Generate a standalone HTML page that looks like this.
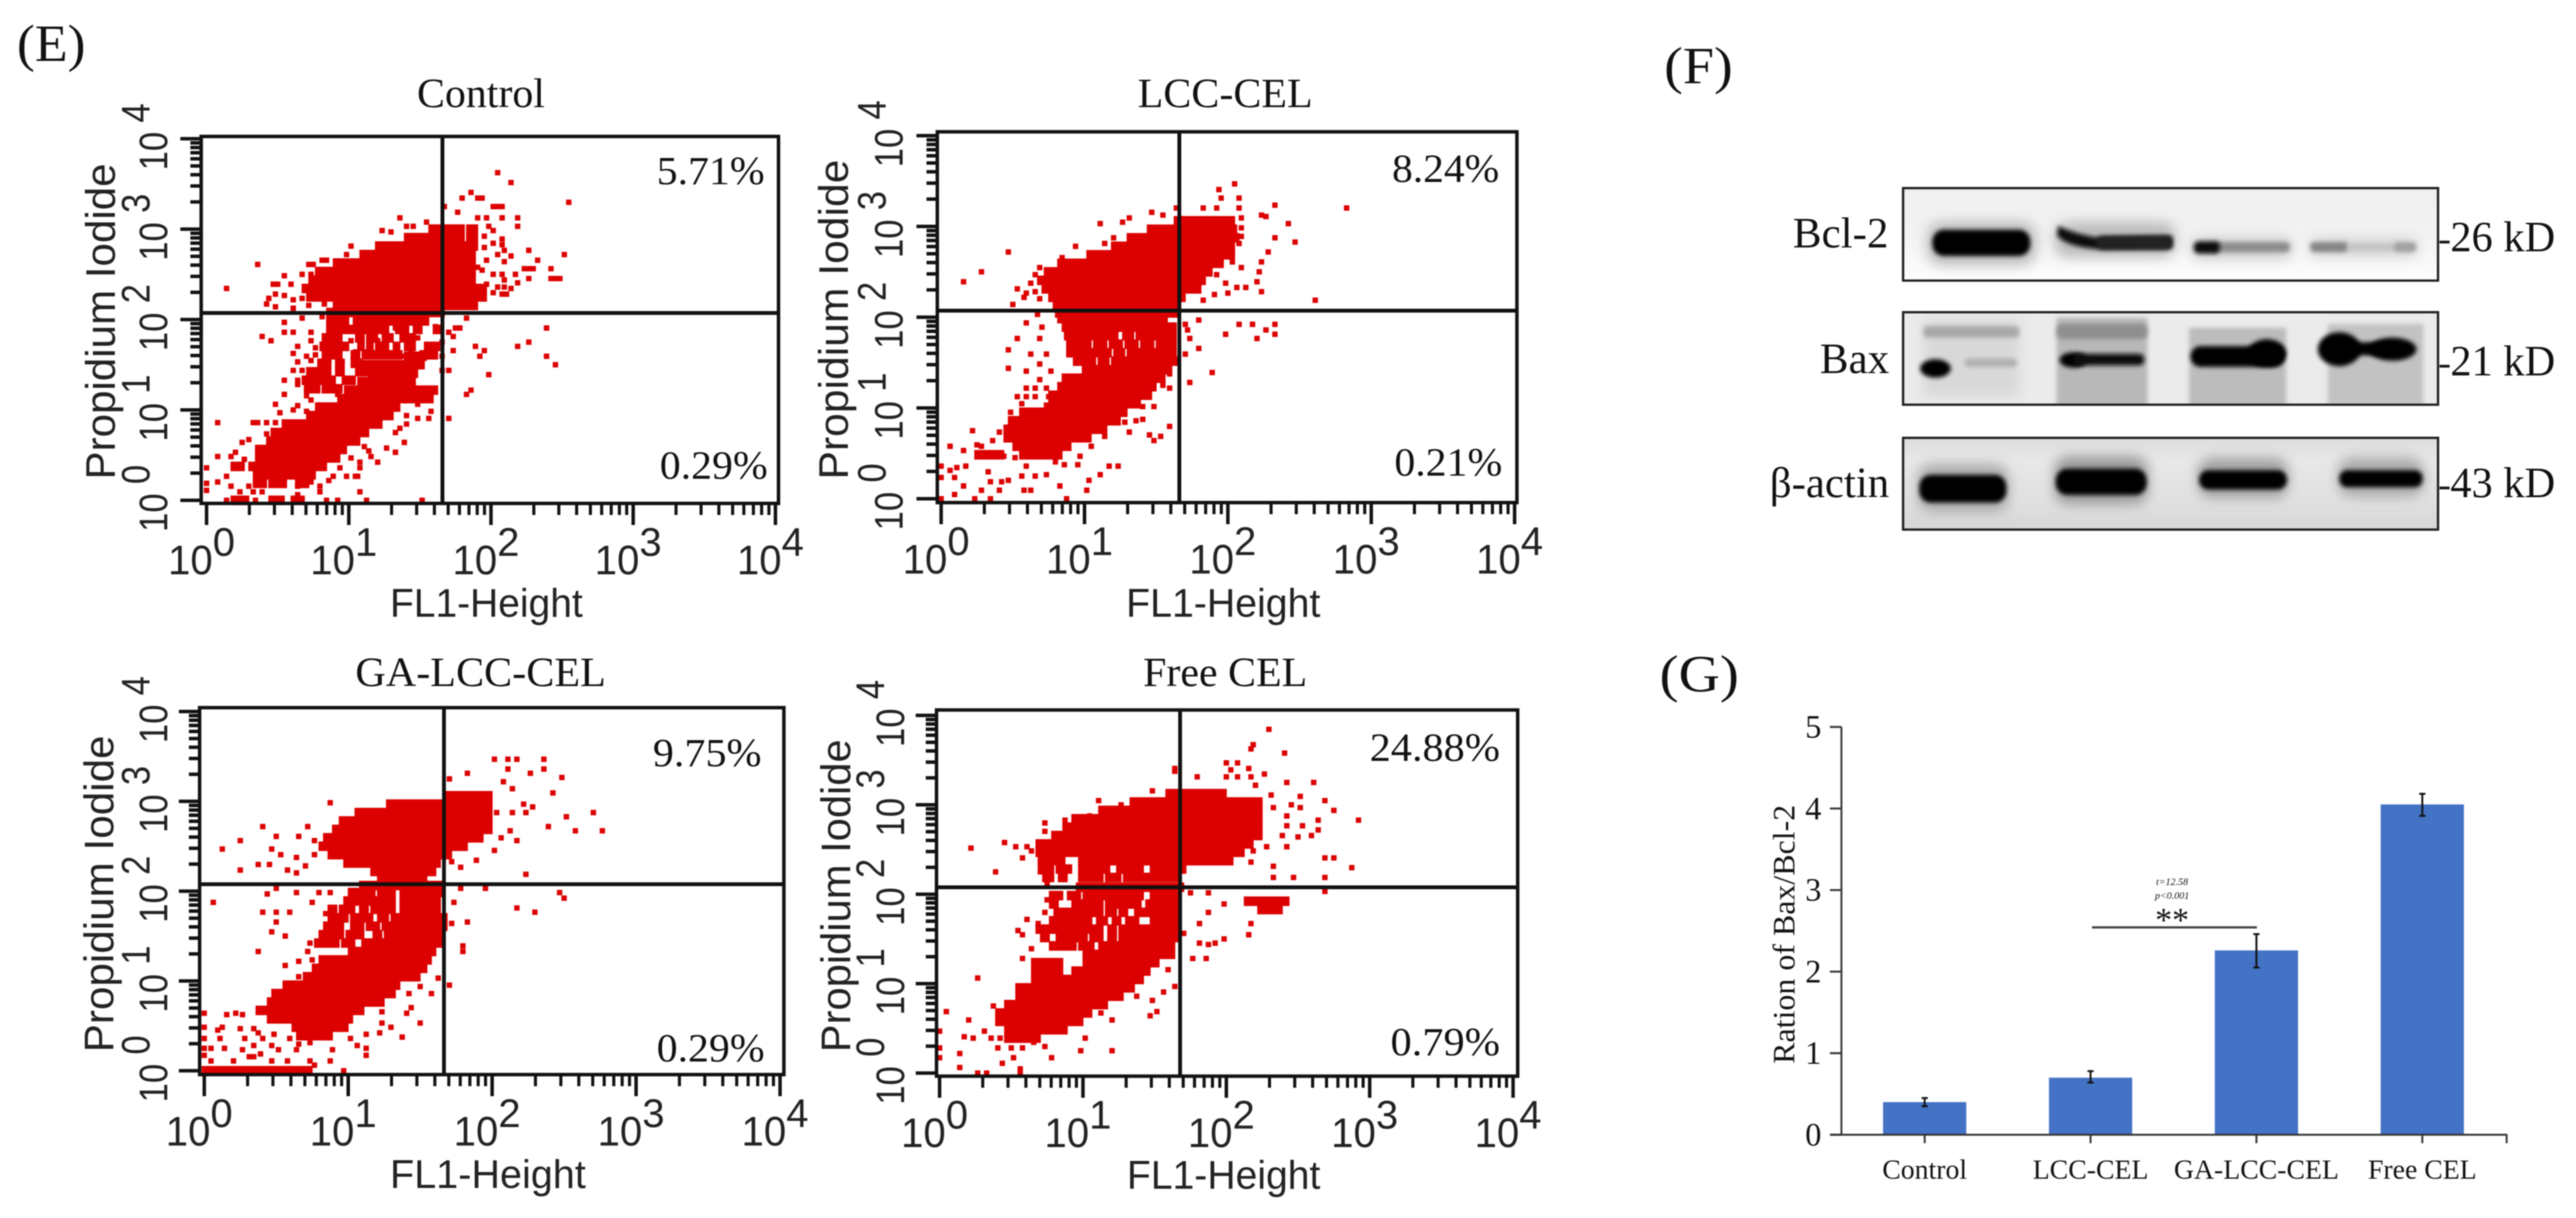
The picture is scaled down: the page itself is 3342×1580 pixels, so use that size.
<!DOCTYPE html>
<html lang="en">
<head>
<meta charset="utf-8">
<title>Apoptosis flow cytometry, western blot and Bax/Bcl-2 ratio</title>
<style>
html,body{margin:0;padding:0;background:#fff;width:3342px;height:1580px;overflow:hidden}
#figure{display:block;filter:blur(.7px)}
.serif{font-family:"Liberation Serif",serif;fill:#111}
.sans{font-family:"Liberation Sans",sans-serif;fill:#222}
</style>
</head>
<body>
<svg id="figure" xmlns="http://www.w3.org/2000/svg" width="3342" height="1580" viewBox="0 0 3342 1580">
  <defs>
    <filter id="b3" x="-30%" y="-60%" width="160%" height="220%"><feGaussianBlur stdDeviation="3"/></filter>
    <filter id="b8" x="-30%" y="-80%" width="160%" height="260%"><feGaussianBlur stdDeviation="8"/></filter>
    <clipPath id="clip-bcl"><rect x="2469" y="244" width="694" height="120"/></clipPath>
    <clipPath id="clip-bax"><rect x="2469" y="405" width="694" height="120"/></clipPath>
    <clipPath id="clip-act"><rect x="2469" y="568" width="694" height="119"/></clipPath>
    <linearGradient id="bcl-bg" x1="0" y1="0" x2="0" y2="1"><stop offset="0" stop-color="#efefef"/><stop offset=".5" stop-color="#f2f2f2"/><stop offset="1" stop-color="#fdfdfd"/></linearGradient>
    <linearGradient id="act-bg" x1="0" y1="0" x2="0" y2="1"><stop offset="0" stop-color="#dcdcdc"/><stop offset=".25" stop-color="#e8e8e8"/><stop offset=".7" stop-color="#e0e0e0"/><stop offset="1" stop-color="#d6d6d6"/></linearGradient>
  </defs>
  <rect width="3342" height="1580" fill="#fff"/>

  <text class="serif" x="22" y="79" font-size="68" textLength="89" lengthAdjust="spacingAndGlyphs">(E)</text>
  <text class="serif" x="2159" y="108" font-size="68" textLength="89" lengthAdjust="spacingAndGlyphs">(F)</text>
  <text class="serif" x="2153" y="897" font-size="68" textLength="103" lengthAdjust="spacingAndGlyphs">(G)</text>

  <g id="flow-plots"></g>

  <g id="western-blot">
    <g clip-path="url(#clip-bcl)">
      <rect x="2469" y="244" width="694" height="120" fill="url(#bcl-bg)"/>
      <rect x="2500" y="288" width="142" height="56" rx="20" fill="#bbb" filter="url(#b8)"/>
      <rect x="2665" y="288" width="158" height="46" rx="18" fill="#bbb" filter="url(#b8)"/>
      <rect x="2842" y="308" width="132" height="28" rx="12" fill="#ccc" filter="url(#b8)"/>
      <rect x="2995" y="308" width="142" height="26" rx="12" fill="#d6d6d6" filter="url(#b8)"/>
      <rect x="2507" y="298" width="127" height="34" rx="15" fill="#000" filter="url(#b3)"/>
      <path d="M2670 293 Q2690 303 2720 308 L2818 306 L2818 322 L2720 323 Q2682 320 2669 306 Z" fill="#0a0a0a" filter="url(#b3)"/>
      <rect x="2720" y="306" width="98" height="18" rx="8" fill="#222" filter="url(#b3)"/>
      <rect x="2870" y="314" width="101" height="13" rx="6" fill="#8c8c8c" filter="url(#b3)"/>
      <rect x="2846" y="313" width="34" height="16" rx="7" fill="#111" filter="url(#b3)"/>
      <rect x="2997" y="314" width="50" height="13" rx="6" fill="#858585" filter="url(#b3)"/>
      <rect x="3045" y="316" width="62" height="9" rx="4" fill="#c4c4c4" filter="url(#b3)"/>
      <rect x="3105" y="314" width="30" height="13" rx="6" fill="#a0a0a0" filter="url(#b3)"/>
    </g>
    <rect x="2469" y="244" width="694" height="120" fill="none" stroke="#222" stroke-width="3"/>

    <g clip-path="url(#clip-bax)">
      <rect x="2469" y="405" width="694" height="120" fill="#ebebeb"/>
      <rect x="2495" y="415" width="125" height="100" fill="#d8d8d8" filter="url(#b8)"/>
      <rect x="2668" y="412" width="118" height="116" fill="#b8b8b8" filter="url(#b3)"/>
      <rect x="2840" y="425" width="126" height="102" fill="#bcbcbc" filter="url(#b3)"/>
      <rect x="3020" y="420" width="124" height="106" fill="#c2c2c2" filter="url(#b3)"/>
      <rect x="2495" y="423" width="125" height="15" rx="6" fill="#a8a8a8" filter="url(#b3)"/>
      <rect x="2668" y="420" width="118" height="20" rx="8" fill="#8f8f8f" filter="url(#b3)"/>
      <ellipse cx="2511" cy="478" rx="20" ry="12" fill="#000" filter="url(#b3)"/>
      <rect x="2549" y="465" width="68" height="11" rx="5" fill="#b0b0b0" filter="url(#b3)"/>
      <ellipse cx="2690" cy="467" rx="18" ry="10" fill="#000" filter="url(#b3)"/>
      <rect x="2690" y="459" width="92" height="15" rx="7" fill="#111" filter="url(#b3)"/>
      <rect x="2842" y="449" width="122" height="27" rx="13" fill="#000" filter="url(#b3)"/>
      <ellipse cx="2941" cy="458" rx="25" ry="18" fill="#000" filter="url(#b3)"/>
      <ellipse cx="3035" cy="453" rx="28" ry="22" fill="#000" filter="url(#b3)"/>
      <ellipse cx="3104" cy="453" rx="31" ry="15" fill="#000" filter="url(#b3)"/>
      <rect x="3040" y="444" width="60" height="17" fill="#000" filter="url(#b3)"/>
    </g>
    <rect x="2469" y="405" width="694" height="120" fill="none" stroke="#222" stroke-width="3"/>

    <g clip-path="url(#clip-act)">
      <rect x="2469" y="568" width="694" height="119" fill="url(#act-bg)"/>
      <rect x="2488" y="602" width="118" height="62" rx="18" fill="#aaa" filter="url(#b8)"/>
      <rect x="2665" y="592" width="122" height="62" rx="18" fill="#999" filter="url(#b8)"/>
      <rect x="2851" y="594" width="118" height="52" rx="18" fill="#a0a0a0" filter="url(#b8)"/>
      <rect x="3033" y="594" width="112" height="50" rx="18" fill="#a8a8a8" filter="url(#b8)"/>
      <rect x="2490" y="616" width="113" height="36" rx="15" fill="#000" filter="url(#b3)"/>
      <rect x="2667" y="608" width="118" height="34" rx="15" fill="#000" filter="url(#b3)"/>
      <rect x="2853" y="610" width="114" height="25" rx="12" fill="#000" filter="url(#b3)"/>
      <rect x="3035" y="610" width="108" height="22" rx="10" fill="#000" filter="url(#b3)"/>
    </g>
    <rect x="2469" y="568" width="694" height="119" fill="none" stroke="#222" stroke-width="3"/>

    <text class="serif" x="2326" y="321" font-size="56" textLength="124" lengthAdjust="spacingAndGlyphs">Bcl-2</text>
    <text class="serif" x="2361" y="484" font-size="56" textLength="90" lengthAdjust="spacingAndGlyphs">Bax</text>
    <text class="serif" x="2296" y="645" font-size="56" textLength="155" lengthAdjust="spacingAndGlyphs">β-actin</text>
    <line x1="3165" y1="314" x2="3178" y2="314" stroke="#111" stroke-width="3.5"/>
    <line x1="3165" y1="475" x2="3178" y2="475" stroke="#111" stroke-width="3.5"/>
    <line x1="3165" y1="633" x2="3178" y2="633" stroke="#111" stroke-width="3.5"/>
    <text class="serif" x="3179" y="326" font-size="56" textLength="136" lengthAdjust="spacingAndGlyphs">26 kD</text>
    <text class="serif" x="3179" y="487" font-size="56" textLength="136" lengthAdjust="spacingAndGlyphs">21 kD</text>
    <text class="serif" x="3179" y="645" font-size="56" textLength="136" lengthAdjust="spacingAndGlyphs">43 kD</text>
  </g>

  <g id="bar-chart"></g>
</svg>

<script>
/* ---------- Flow cytometry data: channels, 64 channels per decade ---------- */
const xExponents = ['0', '1', '2', '3', '4'];
const yExponents = ['0', '1', '2', '3', '4'];
const tickBase = '10';
const minorMultiples = [2, 3, 4, 5, 6, 7, 8, 9];
const xAxisTitle = 'FL1-Height';
const yAxisTitle = 'Propidium Iodide';

/* bands: [PI channel, FL1 channel start, FL1 channel end] */
const controlBands = [[192,101,104],[192,106,115],[192,118,121],[186,90,104],[186,106,115],[186,118,121],[180,77,121],[174,70,120],[168,58,120],[162,50,120],[156,47,120],[150,44,125],[144,46,125],[138,58,104],[138,106,121],[133,55,106],[127,55,63],[127,67,99],[121,55,60],[121,62,67],[121,69,81],[121,86,90],[121,94,96],[121,103,105],[115,53,60],[115,68,70],[115,73,76],[115,80,83],[115,88,93],[109,52,63],[109,69,70],[109,73,74],[109,77,78],[109,80,81],[109,85,86],[109,90,93],[109,99,104],[103,53,58],[103,59,60],[103,66,68],[103,71,87],[103,97,103],[97,51,55],[97,59,61],[97,66,69],[91,46,55],[91,59,61],[91,68,72],[85,44,47],[85,49,52],[85,54,57],[85,62,66],[79,45,50],[79,53,60],[102,90,98],[96,71,97],[90,74,94],[84,69,93],[78,63,91],[78,92,103],[72,60,89],[72,90,101],[66,50,86],[60,46,83],[54,35,78],[48,30,72],[42,28,68],[36,23,62],[30,23,59],[24,20,53],[24,12,16],[18,42,48],[18,22,40],[12,22,26],[12,29,35],[12,41,45],[0,12,18],[0,29,34],[0,39,43]];
const lccBands = [[196,105,107],[196,108,130],[190,93,131],[184,84,132],[178,77,130],[172,66,130],[166,53,125],[160,47,120],[154,44,117],[148,46,115],[142,49,108],[136,51,106],[131,52,105],[127,53,64],[127,66,100],[121,55,62],[121,64,68],[121,70,76],[121,78,82],[121,84,90],[121,92,97],[121,99,104],[115,56,60],[115,62,66],[115,68,72],[115,74,78],[115,82,85],[115,88,91],[115,93,104],[109,57,61],[109,63,66],[109,69,73],[109,76,80],[109,83,87],[109,90,94],[109,97,104],[103,57,75],[103,78,81],[103,84,104],[97,60,68],[97,71,74],[97,77,105],[91,64,102],[85,55,99],[79,53,95],[73,49,93],[67,49,88],[61,36,82],[55,31,79],[49,29,73],[43,29,66],[37,33,57],[31,16,27],[31,36,53]];
const gaBands = [[196,107,127],[190,82,127],[184,68,127],[178,61,127],[172,58,127],[166,54,123],[160,52,116],[154,56,109],[148,63,104],[142,75,102],[136,78,98],[132,70,105],[127,65,75],[127,78,84],[127,88,106],[121,63,70],[121,72,84],[121,88,104],[115,56,58],[115,61,66],[115,70,72],[115,75,84],[115,88,104],[109,56,63],[109,66,74],[109,78,81],[109,84,107],[103,54,61],[103,66,70],[103,73,77],[103,80,107],[97,52,61],[97,64,70],[97,76,78],[97,81,105],[91,50,59],[91,62,66],[91,71,105],[85,65,102],[79,52,100],[73,49,98],[67,45,95],[61,36,86],[55,31,84],[49,29,79],[43,24,70],[37,29,65],[31,40,63],[25,42,56],[0,0,47]];
const freeBands = [[200,102,127],[194,86,143],[188,72,143],[182,60,143],[176,56,143],[170,51,143],[164,44,139],[158,44,135],[152,45,55],[152,63,130],[146,45,50],[146,53,58],[146,63,75],[146,80,90],[146,95,109],[140,47,50],[140,54,56],[140,63,72],[140,75,80],[140,83,106],[133,62,108],[127,50,54],[127,58,62],[127,65,90],[127,95,106],[121,50,52],[121,60,72],[121,75,84],[121,86,89],[121,93,106],[123,137,155],[117,143,152],[115,52,54],[115,56,72],[115,75,78],[115,81,83],[115,88,106],[109,50,54],[109,56,67],[109,71,74],[109,78,80],[109,84,88],[109,95,107],[103,44,63],[103,65,72],[103,76,78],[103,81,107],[97,46,48],[97,53,65],[97,68,72],[97,76,78],[97,81,107],[91,50,60],[91,63,68],[91,72,104],[85,65,104],[79,42,54],[79,65,97],[73,42,54],[73,60,93],[67,42,90],[61,35,86],[55,35,81],[49,30,74],[43,26,67],[37,26,63],[31,30,56],[25,30,44]];

/* dots: [FL1 channel, PI channel] */
const controlDots = [[9,150],[23,167],[65,180],[63,174],[87,200],[79,191],[90,194],[93,194],[99,197],[95,187],[83,190],[52,170],[54,170],[46,167],[48,167],[35,159],[43,160],[47,160],[38,153],[30,153],[32,153],[35,145],[31,146],[28,143],[27,139],[31,137],[39,142],[39,136],[43,143],[46,138],[53,139],[131,232],[137,225],[119,218],[115,214],[122,214],[124,214],[163,211],[107,208],[129,208],[131,208],[133,208],[113,204],[122,200],[126,200],[133,200],[140,200],[140,194],[127,194],[125,187],[129,191],[133,185],[129,182],[133,181],[125,179],[134,177],[145,177],[137,173],[131,174],[161,174],[149,170],[126,170],[134,169],[145,164],[143,164],[147,164],[155,164],[139,160],[145,157],[157,157],[155,157],[159,157],[140,154],[129,160],[133,160],[134,156],[126,153],[131,151],[134,151],[137,150],[129,147],[133,146],[135,146],[124,163],[122,165],[117,129],[114,122],[112,122],[153,122],[109,119],[111,116],[106,112],[111,106],[145,112],[140,109],[121,109],[125,106],[123,102],[106,102],[153,102],[157,96],[106,92],[109,92],[127,89],[119,78],[117,75],[109,58],[25,116],[29,113],[35,126],[35,119],[39,119],[47,119],[43,129],[52,130],[47,113],[41,109],[39,104],[49,108],[49,103],[45,102],[41,98],[47,99],[39,92],[43,92],[47,92],[52,92],[55,98],[54,113],[58,118],[59,106],[61,98],[60,92],[65,113],[67,105],[69,115],[74,113],[77,113],[71,105],[82,114],[85,122],[90,122],[94,123],[95,115],[85,109],[88,102],[92,105],[100,109],[103,123],[102,107],[35,85],[41,85],[41,82],[45,83],[47,82],[53,83],[56,83],[45,78],[50,79],[60,79],[35,75],[45,74],[47,71],[59,75],[31,68],[41,67],[33,62],[39,64],[45,63],[21,55],[23,55],[27,55],[5,55],[31,55],[27,47],[19,43],[16,41],[5,31],[13,34],[11,31],[17,29],[12,23],[9,17],[5,13],[0,23],[0,12],[0,7],[11,10],[19,10],[15,6],[21,6],[25,6],[22,14],[29,18],[32,18],[37,17],[32,12],[34,11],[41,10],[41,4],[45,11],[47,13],[51,10],[51,6],[55,14],[57,17],[63,17],[67,17],[68,17],[69,6],[69,23],[69,27],[65,30],[60,23],[77,27],[74,31],[71,38],[73,35],[81,37],[85,34],[89,41],[85,48],[81,61],[90,60],[95,68],[95,58],[100,58],[101,63],[90,54],[87,51],[9,0],[22,0],[54,0],[59,0],[72,0],[97,0]];
const lccDots = [[10,153],[18,160],[30,174],[60,178],[71,194],[81,195],[84,198],[94,202],[99,200],[105,205],[44,163],[42,158],[40,152],[34,148],[38,145],[42,146],[32,137],[37,142],[44,141],[77,184],[73,180],[54,170],[131,222],[124,218],[125,212],[133,212],[117,205],[123,205],[133,205],[134,198],[143,200],[149,207],[145,199],[155,194],[181,205],[149,184],[158,181],[134,191],[134,185],[133,180],[146,174],[143,167],[134,163],[130,174],[130,167],[142,160],[141,153],[132,149],[136,149],[143,146],[128,145],[123,158],[127,152],[167,140],[117,140],[122,144],[133,123],[139,123],[149,123],[127,116],[149,116],[141,113],[145,119],[115,126],[109,123],[110,119],[111,113],[115,106],[109,102],[121,89],[111,82],[43,130],[38,124],[45,121],[34,113],[30,105],[44,113],[40,102],[47,102],[30,92],[38,90],[44,95],[49,90],[44,84],[38,78],[42,78],[47,78],[34,72],[38,72],[42,72],[48,72],[36,67],[31,61],[47,66],[102,88],[99,80],[102,78],[95,65],[90,65],[90,56],[87,55],[82,54],[102,51],[84,47],[93,45],[98,44],[95,41],[73,44],[67,37],[62,30],[55,24],[14,48],[4,37],[10,34],[16,38],[0,23],[4,20],[7,22],[11,23],[0,15],[6,15],[10,9],[6,3],[0,0],[15,0],[18,6],[22,0],[21,19],[22,12],[26,6],[27,12],[30,13],[36,16],[38,23],[40,6],[42,16],[37,6],[47,17],[53,9],[56,0],[65,6],[66,13],[71,17],[75,23],[79,23],[61,24],[51,26],[33,29],[28,30],[23,41],[18,37],[26,47]];
const gaDots = [[26,174],[16,164],[32,167],[8,158],[30,158],[42,167],[46,174],[56,191],[49,164],[34,154],[16,143],[24,147],[29,147],[41,152],[37,143],[41,141],[45,146],[49,154],[129,222],[135,222],[139,222],[151,222],[135,215],[151,215],[145,212],[159,209],[117,212],[109,208],[133,206],[155,198],[137,201],[142,190],[146,188],[143,184],[137,184],[130,184],[161,181],[173,184],[153,174],[165,171],[177,171],[139,164],[132,166],[136,171],[129,157],[121,150],[114,145],[110,149],[143,140],[158,127],[160,123],[139,116],[147,113],[125,130],[117,106],[115,89],[115,85],[110,105],[111,120],[114,130],[109,61],[104,66],[4,120],[28,126],[32,130],[41,127],[51,127],[26,113],[32,113],[38,113],[32,106],[30,99],[36,96],[24,85],[48,120],[54,112],[47,91],[46,85],[48,79],[36,75],[42,78],[42,67],[56,127],[91,55],[96,60],[101,55],[92,45],[90,41],[96,34],[79,42],[79,34],[78,27],[83,31],[88,24],[72,26],[72,16],[72,11],[65,23],[68,18],[62,0],[57,15],[56,7],[0,41],[0,31],[0,23],[0,16],[3,7],[0,11],[6,29],[8,31],[17,40],[10,40],[14,41],[7,23],[3,16],[9,16],[13,7],[20,10],[22,10],[16,30],[22,30],[18,23],[24,27],[26,23],[30,18],[33,15],[37,7],[38,23],[31,26],[41,15],[47,7],[49,4],[17,15],[22,18],[25,12],[30,7],[42,19],[47,20]];
const freeDots = [[147,246],[140,235],[139,232],[154,229],[105,218],[105,216],[128,222],[133,222],[130,217],[138,218],[145,214],[115,212],[128,212],[133,212],[139,212],[155,208],[167,208],[141,206],[148,199],[161,198],[172,195],[176,188],[187,181],[161,190],[155,184],[155,177],[169,181],[169,174],[162,177],[157,192],[149,190],[153,170],[166,170],[160,169],[155,162],[146,162],[140,159],[172,154],[176,154],[184,147],[139,151],[149,148],[149,140],[158,140],[172,140],[172,130],[14,161],[25,144],[29,165],[34,162],[39,162],[37,154],[41,159],[47,179],[47,173],[56,181],[71,195],[81,192],[95,202],[67,184],[45,151],[49,146],[45,144],[56,146],[48,135],[48,124],[47,115],[39,110],[35,102],[37,99],[44,107],[41,89],[37,82],[44,80],[17,68],[112,129],[120,129],[127,121],[120,115],[109,100],[116,107],[116,93],[113,82],[119,82],[120,92],[127,96],[123,93],[139,107],[138,99],[105,62],[102,74],[97,44],[94,41],[88,55],[95,52],[100,58],[90,66],[77,38],[72,43],[77,16],[65,25],[63,16],[50,11],[3,44],[0,30],[0,18],[0,11],[13,38],[11,26],[15,25],[9,14],[9,4],[20,30],[24,48],[26,38],[28,7],[33,11],[36,3],[17,0],[21,0],[36,0],[26,18],[32,18],[37,18],[42,22],[47,19],[60,36],[23,25],[27,25]];

/* ---------- Bar chart data ---------- */
const barCategories = ['Control', 'LCC-CEL', 'GA-LCC-CEL', 'Free CEL'];
const barValues = [0.40, 0.70, 2.26, 4.05];
const errLow = [0.35, 0.64, 2.05, 3.91];
const errHigh = [0.45, 0.78, 2.46, 4.18];
const barTicks = [0, 1, 2, 3, 4, 5];

/* ---------- helpers ---------- */
const NS = 'http://www.w3.org/2000/svg';
function mk(parent, tag, attrs, txt) {
  const el = document.createElementNS(NS, tag);
  for (const k in attrs) el.setAttribute(k, attrs[k]);
  if (txt !== undefined) el.textContent = txt;
  parent.appendChild(el);
  return el;
}
const CHANNELS_PER_DECADE = 64;

const flowPanels = [
  {key:'control', title:'Control', bands:controlBands, dots:controlDots, upper:'5.71%', lower:'0.29%',
   L:261,R:1010,T:177,B:653,hY:406,vX:574,x0:268,x4:1006,y0:649,y4:180,
   titleX:541,titleW:166,titleY:139,upX:852,upW:140,upY:239,loX:856,loW:140,loY:621,
   flX:506,flW:250,flY:800,piX:149,piY:622,piL:410,yLab:217,ySup:194},
  {key:'lcc-cel', title:'LCC-CEL', bands:lccBands, dots:lccDots, upper:'8.24%', lower:'0.21%',
   L:1216,R:1968,T:171,B:652,hY:403,vX:1530,x0:1221,x4:1965,y0:647,y4:176,
   titleX:1476,titleW:227,titleY:139,upX:1806,upW:139,upY:236,loX:1809,loW:140,loY:617,
   flX:1461,flW:252,flY:800,piX:1100,piY:622,piL:415,yLab:1171,ySup:1149},
  {key:'ga-lcc-cel', title:'GA-LCC-CEL', bands:gaBands, dots:gaDots, upper:'9.75%', lower:'0.29%',
   L:259,R:1017,T:918,B:1394,hY:1147,vX:576,x0:265,x4:1012,y0:1389,y4:923,
   titleX:461,titleW:325,titleY:890,upX:847,upW:141,upY:994,loX:852,loW:140,loY:1377,
   flX:506,flW:254,flY:1541,piX:147,piY:1365,piL:411,yLab:217,ySup:194},
  {key:'free-cel', title:'Free CEL', bands:freeBands, dots:freeDots, upper:'24.88%', lower:'0.79%',
   L:1215,R:1969,T:921,B:1396,hY:1151,vX:1531,x0:1219,x4:1963,y0:1392,y4:928,
   titleX:1483,titleW:213,titleY:890,upX:1777,upW:169,upY:987,loX:1804,loW:142,loY:1369,
   flX:1462,flW:251,flY:1542,piX:1103,piY:1365,piL:406,yLab:1173,ySup:1147}
];

function drawFlowPanel(p) {
  const root = document.getElementById('flow-plots');
  const g = mk(root, 'g', {});
  
  

  const decX = (p.x4 - p.x0) / 4, decY = (p.y0 - p.y4) / 4;
  const xCh = c => p.x0 + c / CHANNELS_PER_DECADE * decX;
  const yCh = c => p.y0 - c / CHANNELS_PER_DECADE * decY;
  const xDec = d => p.x0 + d * decX;
  const yDec = d => p.y0 - d * decY;

  const t = mk(g, 'text', {class:'serif', x:p.titleX, y:p.titleY, 'font-size':54, textLength:p.titleW, lengthAdjust:'spacingAndGlyphs'}, p.title);
  
  

  const marks = mk(g, 'g', {fill:'#dc0000'});
  
  
  p.bands.forEach(b => {
    const x1 = xCh(b[1]) - 3.5, x2 = xCh(b[2]) + 3.5;
    const r = mk(marks, 'rect', {x:x1, y:yCh(b[0]) - 6.2, width:x2 - x1, height:12.4});
    
    
  });
  p.dots.forEach(d => {
    const r = mk(marks, 'rect', {x:xCh(d[0]) - 3.5, y:yCh(d[1]) - 3.5, width:7, height:7});
    
    
  });

  const frame = mk(g, 'rect', {x:p.L, y:p.T, width:p.R - p.L, height:p.B - p.T, fill:'none', stroke:'#111', 'stroke-width':4.5});
  
  
  const h = mk(g, 'line', {x1:p.L, x2:p.R, y1:p.hY, y2:p.hY, stroke:'#111', 'stroke-width':5});
  
  
  const v = mk(g, 'line', {x1:p.vX, x2:p.vX, y1:p.T, y2:p.B, stroke:'#111', 'stroke-width':5});
  
  

  const up = mk(g, 'text', {class:'serif', x:p.upX, y:p.upY, 'font-size':52, textLength:p.upW, lengthAdjust:'spacingAndGlyphs'}, p.upper);
  
  
  const lo = mk(g, 'text', {class:'serif', x:p.loX, y:p.loY, 'font-size':52, textLength:p.loW, lengthAdjust:'spacingAndGlyphs'}, p.lower);
  
  

  /* x axis */
  xExponents.forEach((e, i) => {
    const x = xDec(i);
    const tk = mk(g, 'line', {x1:x, x2:x, y1:p.B, y2:p.B + 28, stroke:'#111', 'stroke-width':4.5});
    
    
    if (i < 4) minorMultiples.forEach(m => {
      const xm = xDec(i + Math.log10(m));
      const mt = mk(g, 'line', {x1:xm, x2:xm, y1:p.B, y2:p.B + 15, stroke:'#111', 'stroke-width':4});
      
      
    });
    const base = mk(g, 'text', {class:'sans', x:x - 50, y:p.B + 92, 'font-size':54, textLength:58, lengthAdjust:'spacingAndGlyphs'}, tickBase);
    
    
    const sup = mk(g, 'text', {class:'sans', x:x + 8, y:p.B + 68, 'font-size':52}, e);
    
    
  });

  /* y axis */
  yExponents.forEach((e, i) => {
    const y = yDec(i);
    const tk = mk(g, 'line', {x1:p.L - 27, x2:p.L, y1:y, y2:y, stroke:'#111', 'stroke-width':4.5});
    
    
    if (i < 4) minorMultiples.forEach(m => {
      const ym = yDec(i + Math.log10(m));
      const mt = mk(g, 'line', {x1:p.L - 14, x2:p.L, y1:ym, y2:ym, stroke:'#111', 'stroke-width':4.5});
      
      
    });
    const base = mk(g, 'text', {class:'sans', transform:'translate(' + p.yLab + ',' + (y + 41) + ') rotate(-90)', 'font-size':52, textLength:50, lengthAdjust:'spacingAndGlyphs'}, tickBase);
    
    
    const sup = mk(g, 'text', {class:'sans', transform:'translate(' + p.ySup + ',' + (y - 21) + ') rotate(-90)', 'font-size':52, textLength:25, lengthAdjust:'spacingAndGlyphs'}, e);
    
    
  });

  const fl = mk(g, 'text', {class:'sans', x:p.flX, y:p.flY, 'font-size':52, textLength:p.flW, lengthAdjust:'spacingAndGlyphs'}, xAxisTitle);
  
  
  const pi = mk(g, 'text', {class:'sans', transform:'translate(' + p.piX + ',' + p.piY + ') rotate(-90)', 'font-size':54, textLength:p.piL, lengthAdjust:'spacingAndGlyphs'}, yAxisTitle);
  
  
}
flowPanels.forEach(drawFlowPanel);

/* ---------- Bar chart ---------- */
(function drawBars() {
  const g = document.getElementById('bar-chart');
  const originX = 2389, firstCenter = 2497, step = 215.2, barW = 108;
  const zeroY = 1472, unit = 105.8;
  const xBand = i => firstCenter + i * step;
  const yVal = v => zeroY - v * unit;

  barCategories.forEach((c, i) => {
    const r = mk(g, 'rect', {x:xBand(i) - barW / 2, y:yVal(barValues[i]), width:barW, height:barValues[i] * unit, fill:'#4472c4'});
    
    
    const e = mk(g, 'line', {x1:xBand(i), x2:xBand(i), y1:yVal(errLow[i]), y2:yVal(errHigh[i]), stroke:'#111', 'stroke-width':2.5});
    
    
    [errLow[i], errHigh[i]].forEach(v => {
      const cap = mk(g, 'line', {x1:xBand(i) - 4, x2:xBand(i) + 4, y1:yVal(v), y2:yVal(v), stroke:'#111', 'stroke-width':2.5});
      
      
    });
    const tk = mk(g, 'line', {x1:xBand(i), x2:xBand(i), y1:zeroY, y2:zeroY + 11, stroke:'#333', 'stroke-width':2.5});
    
    
    const t = mk(g, 'text', {class:'serif', x:xBand(i), y:1529, 'font-size':36, 'text-anchor':'middle'}, c);
    
    
  });

  const xa = mk(g, 'line', {x1:2374, x2:3253, y1:zeroY, y2:zeroY, stroke:'#333', 'stroke-width':2.5});
  
  
  const endT = mk(g, 'line', {x1:3252, x2:3252, y1:zeroY, y2:zeroY + 11, stroke:'#333', 'stroke-width':2.5});
  
  
  const ya = mk(g, 'line', {x1:originX, x2:originX, y1:yVal(5), y2:zeroY, stroke:'#333', 'stroke-width':2.5});
  
  

  barTicks.forEach(v => {
    const tk = mk(g, 'line', {x1:2374, x2:originX, y1:yVal(v), y2:yVal(v), stroke:'#333', 'stroke-width':2.5});
    
    
    const t = mk(g, 'text', {class:'serif', x:2363, y:yVal(v) + 14, 'font-size':42, 'text-anchor':'end'}, String(v));
    
    
  });

  const yt = mk(g, 'text', {class:'serif', transform:'translate(2328,1380) rotate(-90)', 'font-size':40, textLength:336, lengthAdjust:'spacingAndGlyphs'}, 'Ration of Bax/Bcl-2');
  
  

  const sig = mk(g, 'line', {x1:2714, x2:2928, y1:1203, y2:1203, stroke:'#444', 'stroke-width':3});
  
  
  const stars = mk(g, 'text', {class:'serif', x:2818, y:1208, 'font-size':44, 'text-anchor':'middle'}, '**');
  
  
  const t1 = mk(g, 'text', {class:'serif', x:2818, y:1148, 'font-size':13, 'text-anchor':'middle', 'font-style':'italic', fill:'#555'}, 't=12.58');
  
  
  const t2 = mk(g, 'text', {class:'serif', x:2818, y:1166, 'font-size':13, 'text-anchor':'middle', 'font-style':'italic', fill:'#555'}, 'p<0.001');
  
  
})();
</script>
</body>
</html>
